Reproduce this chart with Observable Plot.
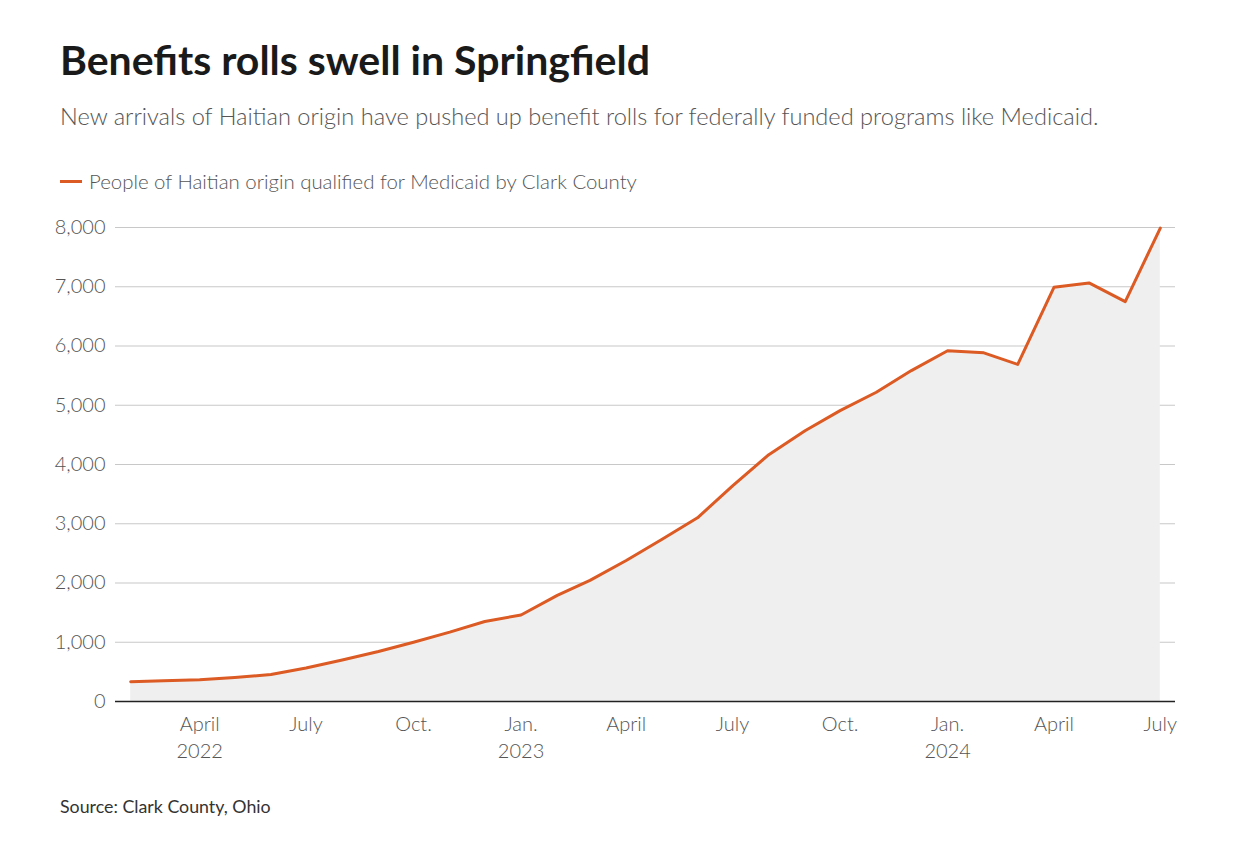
<!DOCTYPE html>
<html>
<head>
<meta charset="utf-8">
<script src="https://cdn.jsdelivr.net/npm/d3@7"></script>
<script src="https://cdn.jsdelivr.net/npm/@observablehq/plot@0.6"></script>
<style>
  html, body { margin: 0; padding: 0; background: #fff; }
  body { width: 1241px; height: 854px; position: relative; font-family: Lato, "Noto Sans", sans-serif; overflow: hidden; }
  #title { position: absolute; left: 60px; top: 35px; font-size: 41px; font-weight: 700; color: #1a1a1a; white-space: nowrap; }
  #subtitle { position: absolute; left: 60px; top: 102px; font-size: 23.6px; font-weight: 300; color: #555; white-space: nowrap; }
  #legend { position: absolute; left: 60px; top: 169px; font-size: 20.4px; font-weight: 300; color: #555; white-space: nowrap; display: flex; align-items: center; }
  #legend .sw { display: inline-block; width: 22px; height: 3px; background: #dc5a23; margin-right: 7px; }
  #chart { position: absolute; left: 0; top: 200px; }
  #source { position: absolute; left: 60px; top: 795px; font-size: 17.8px; color: #333; white-space: nowrap; }
</style>
</head>
<body>
<div id="title">Benefits rolls swell in Springfield</div>
<div id="subtitle">New arrivals of Haitian origin have pushed up benefit rolls for federally funded programs like Medicaid.</div>
<div id="legend"><span class="sw"></span><span>People of Haitian origin qualified for Medicaid by Clark County</span></div>
<div id="chart"></div>
<div id="source">Source: Clark County, Ohio</div>
<script>
const months = [
  "2022-02","2022-03","2022-04","2022-05","2022-06","2022-07","2022-08","2022-09","2022-10","2022-11","2022-12",
  "2023-01","2023-02","2023-03","2023-04","2023-05","2023-06","2023-07","2023-08","2023-09","2023-10","2023-11","2023-12",
  "2024-01","2024-02","2024-03","2024-04","2024-05","2024-06","2024-07"
];
const people = [
  335, 350, 366, 405, 456, 565, 700, 845, 1000, 1170, 1350,
  1460, 1790, 2045, 2380, 2730, 3100, 3640, 4165, 4570, 4910, 5220, 5585,
  5920, 5885, 5690, 6990, 7065, 6750, 7990
];
const yTicks = [0, 1000, 2000, 3000, 4000, 5000, 6000, 7000, 8000];
const xTickMonths = ["2022-04","2022-07","2022-10","2023-01","2023-04","2023-07","2023-10","2024-01","2024-04","2024-07"];
const monthLabels = {0: "Jan.", 3: "April", 6: "July", 9: "Oct."};

const parse = d3.utcParse("%Y-%m");
const data = months.map((m, i) => ({date: parse(m), value: people[i]}));
const xTicks = xTickMonths.map(parse);

const fmtTick = d => {
  const m = d.getUTCMonth();
  const label = monthLabels[m];
  const y = d.getUTCFullYear();
  const firstYearTick = (y === 2022 && m === 3) || m === 0;
  return firstYearTick ? label + "\n" + y : label;
};

const chart = Plot.plot({
  width: 1241,
  height: 580,
  marginLeft: 115,
  marginRight: 66,
  marginTop: 27,
  marginBottom: 79,
  style: {fontFamily: "Lato, 'Noto Sans', sans-serif", fontSize: "20px", color: "#555", background: "transparent"},
  x: {type: "utc", domain: [new Date(Date.UTC(2022, 0, 19)), new Date(Date.UTC(2024, 6, 14))]},
  y: {domain: [0, 8000]},
  marks: [
    Plot.ruleY(yTicks.filter(d => d > 0), {stroke: "#c8c8c8", strokeWidth: 1.2}),
    Plot.areaY(data, {x: "date", y: "value", fill: "#efefef"}),
    Plot.ruleY([0], {stroke: "#222", strokeWidth: 1.5}),
    Plot.lineY(data, {x: "date", y: "value", stroke: "#dc5a23", strokeWidth: 3, strokeLinejoin: "round"}),
    Plot.axisY({ticks: yTicks, tickSize: 0, tickPadding: 10, tickFormat: d3.format(","), fontWeight: 300, fill: "#555", label: null}),
    Plot.axisX({ticks: xTicks, tickSize: 0, tickPadding: 10, tickFormat: fmtTick, fontWeight: 300, fill: "#555", label: null, lineHeight: 1.35})
  ]
});
document.getElementById("chart").appendChild(chart);
</script>
</body>
</html>
